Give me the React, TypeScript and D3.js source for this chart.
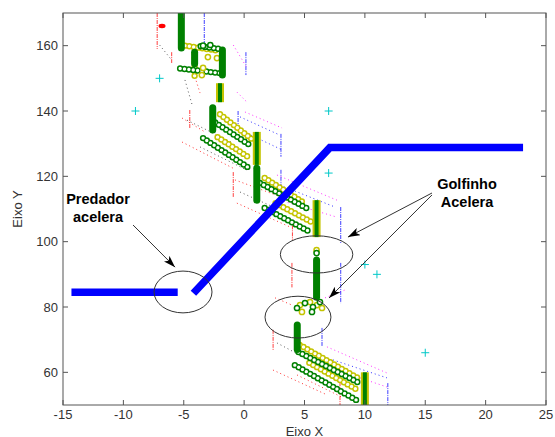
import React from "react";
import * as d3 from "d3";

const W = 555;
const H = 437;
const margin = { top: 13, right: 9, bottom: 32, left: 63 };

const xTicks = [-15, -10, -5, 0, 5, 10, 15, 20, 25];
const yTicks = [60, 80, 100, 120, 140, 160];

// trajetória do predador (linha azul grossa)
const predadorAntes: [number, number][] = [[-14.3, 84.5], [-5.5, 84.5]];
const predadorDepois: [number, number][] = [[-4.2, 84.2], [7.1, 128.8], [23.1, 128.8]];

// trechos verticais densos dos golfinhos: [x, yTopo, yBase]
const barrasVerdes = [
  [-5.2, 170, 159.3],
  [-4.1, 158, 154.5],
  [-1.8, 158.7, 151],
  [-2.6, 141, 134.2],
  [1.05, 122.5, 112.7],
  [6.0, 94.4, 83],
  [4.4, 74.5, 67],
];
const barrasMistas = [
  [-2.0, 148.5, 142.7],
  [1.05, 133.6, 123.5],
  [6.0, 112.7, 101.4],
  [10, 60, 50],
];

// fileiras de hexagramas: [x0, y0, x1, y1]
const fileirasAmarelas = [
  [-4.9, 160, -2.2, 158.5],
  [-4.1, 157.5, -4.1, 150.5],
  [-2.0, 139, 0.6, 131.5],
  [-2.2, 132, 0.3, 126],
  [1.7, 119.5, 5.0, 111.8],
  [2.6, 111.8, 5.6, 106],
  [4.6, 68.4, 9.4, 58.3],
  [5.4, 62.9, 9.4, 54.6],
];
const fileirasVerdes = [
  [-3.6, 159.8, -2.0, 159],
  [-5.3, 153, -1.8, 151.5],
  [-2.4, 136.5, 0.5, 129.5],
  [-3.4, 131.7, 0.3, 122.8],
  [1.3, 118, 5.45, 109.7],
  [1.7, 110.3, 5.45, 103],
  [4.5, 66.2, 9.4, 57],
  [4.2, 62.2, 9.3, 51.5],
];

// hexagramas soltos: [x, y]
const soltosAmarelos = [
  [-3.0, 156.5], [-2.25, 156.2], [-3.5, 151], [-3.4, 153.2], [6.0, 97.4],
  [4.63, 80.6], [5.46, 81.5], [6.03, 80.6], [6.45, 79.7], [4.79, 78.5],
];
const soltosVerdes = [
  [-2.8, 160.2], [-3.4, 160], [6.0, 96.5],
  [4.38, 79.7], [5.04, 81.2], [5.7, 80.0], [6.28, 81.5], [5.62, 78.5],
];

// linhas verticais finas: [x, yTopo, yBase]
const verticaisVermelhas = [
  [-7.2, 170, 159],
  [-6.0, 158, 154.7],
  [-4.5, 140.3, 134.8],
  [-0.9, 121.3, 113.7],
  [4.0, 105, 100.5],
  [3.96, 93.5, 86],
  [2.4, 73, 66.8],
  [7.94, 57, 50],
];
const verticaisAzuis = [
  [-3.3, 170, 160],
  [0.15, 158, 151],
  [-0.5, 140, 135],
  [3.05, 133, 126],
  [3.05, 122, 115],
  [8.0, 110.6, 99.6],
  [8.0, 93.5, 81.2],
  [6.45, 73.6, 67.8],
  [11.9, 56.7, 50],
];

// linhas pontilhadas: [x0, y0, x1, y1]
const pontilhadoVermelho = [
  [-4.07, 150.4, -3.65, 145.5],
  [-5.14, 137.85, -3.24, 133.56],
  [-5.14, 130.5, -0.92, 122.5],
  [-0.76, 118.9, 3.8, 112.7],
  [-0.6, 111.8, 3.8, 104.5],
  [2.56, 82.8, 3.96, 80.6],
  [2.39, 60.7, 6.86, 53.1],
  [4.38, 59.2, 8.1, 52.4],
];
const pontilhadoPreto = [
  [-7.0, 160.2, -6.0, 155.6],
  [-4.9, 149.5, -4.3, 141.8],
  [-4.73, 137.2, -0.92, 130.2],
  [-3.65, 129.0, 0.24, 121.9],
  [-0.34, 115.2, 2.97, 109.7],
  [2.72, 69.0, 7.69, 59.2],
];
const pontilhadoAzul = [
  [-0.34, 138.2, 2.97, 132.6],
  [-0.34, 134.2, 3.14, 128.1],
  [2.97, 117.3, 7.53, 110.6],
  [7.36, 63.8, 11.83, 58.3],
];
const pontilhadoMagenta = [
  [-0.9, 160.2, 0.24, 153.2],
  [-0.6, 145.8, 0.24, 142.7],
  [0.07, 139.7, 3.14, 134.8],
  [2.72, 120.4, 7.69, 112.7],
  [2.97, 112.7, 7.69, 107.5],
  [6.7, 82.8, 8.35, 85.2],
  [6.86, 67.8, 11.83, 59.8],
  [7.69, 60.7, 11.83, 55.5],
];

// marcadores "+" ciano
const cruzes = [[-7, 150], [-9, 140], [7, 140], [7, 121], [10, 93], [11, 90], [15, 66]];

// anotações
const elipses = [
  { cx: -5.06, cy: 84.6, rx: 2.4, ry: 6.4 },
  { cx: 6.0, cy: 96.1, rx: 3.0, ry: 5.7 },
  { cx: 4.46, cy: 76.9, rx: 2.73, ry: 6.4 },
];
const setas = [
  [-9.2, 105.1, -5.72, 92.2],
  [15.56, 114.9, 8.6, 101.4],
  [15.56, 114.3, 7.03, 82.75],
];
const textos = [
  { x: -12.1, y: 113.1, t: "Predador" },
  { x: -12.1, y: 107.6, t: "acelera" },
  { x: 18.46, y: 117.6, t: "Golfinho" },
  { x: 18.46, y: 112.1, t: "Acelera" },
];

const VERDE = "#008000";
const AMARELO = "#c4c400";
const font = "'Liberation Sans', Arial, sans-serif";

export default function App() {
  const x = d3.scaleLinear().domain([-15, 25]).range([margin.left, W - margin.right]);
  const y = d3.scaleLinear().domain([50, 170]).range([H - margin.bottom, margin.top]);
  const line = d3.line<number[]>().x((d) => x(d[0])).y((d) => y(d[1]));
  const x0 = margin.left;
  const x1 = W - margin.right;
  const y0 = H - margin.bottom;
  const y1 = margin.top;

  const fileira = (r: number[], cor: string, k: string) => (
    <g key={k}>
      <line x1={x(r[0])} y1={y(r[1])} x2={x(r[2])} y2={y(r[3])} stroke={cor}
        strokeWidth={6.4} strokeLinecap="round" strokeDasharray="0 4.4" />
      <line x1={x(r[0])} y1={y(r[1])} x2={x(r[2])} y2={y(r[3])} stroke="#fff"
        strokeWidth={3.4} strokeLinecap="round" strokeDasharray="0 4.4" />
    </g>
  );

  const pontilhado = (arr: number[][], cor: string, nome: string) =>
    arr.map((s, i) => (
      <line key={nome + i} x1={x(s[0])} y1={y(s[1])} x2={x(s[2])} y2={y(s[3])}
        stroke={cor} strokeWidth={1} strokeDasharray="1 3" opacity={0.8} />
    ));

  const verticais = (arr: number[][], cor: string, nome: string) =>
    arr.map((s, i) => (
      <line key={nome + i} x1={x(s[0])} y1={y(s[1])} x2={x(s[0])} y2={y(s[2])}
        stroke={cor} strokeWidth={1} strokeDasharray="4 1 1 1" opacity={0.75} />
    ));

  return (
    <svg width={W} height={H} style={{ position: "absolute", left: 0, top: 0, background: "#fff" }}
      fontFamily={font}>
      <defs>
        <clipPath id="area">
          <rect x={x0} y={y1} width={x1 - x0} height={y0 - y1} />
        </clipPath>
        <marker id="ponta" viewBox="0 0 12 8" refX={12} refY={4} markerWidth={12} markerHeight={8}
          markerUnits="userSpaceOnUse" orient="auto">
          <path d="M0,0 L12,4 L0,8 L3,4 Z" fill="#000" />
        </marker>
      </defs>
      <rect x={0} y={0} width={W} height={H} fill="#fff" />

      <g clipPath="url(#area)">
        {pontilhado(pontilhadoVermelho, "#ff0000", "pv")}
        {pontilhado(pontilhadoPreto, "#333", "pp")}
        {pontilhado(pontilhadoAzul, "#0000ff", "pa")}
        {pontilhado(pontilhadoMagenta, "#ff00ff", "pm")}
        {verticais(verticaisVermelhas, "#ff0000", "vv")}
        {verticais(verticaisAzuis, "#0000ff", "va")}

        {fileirasAmarelas.map((r, i) => fileira(r, AMARELO, "fa" + i))}
        {fileirasVerdes.map((r, i) => fileira(r, VERDE, "fv" + i))}

        {soltosAmarelos.map((p, i) => (
          <circle key={"sa" + i} cx={x(p[0])} cy={y(p[1])} r={2.6} fill="#fff" stroke={AMARELO} strokeWidth={1.5} />
        ))}
        {soltosVerdes.map((p, i) => (
          <circle key={"sv" + i} cx={x(p[0])} cy={y(p[1])} r={2.6} fill="#fff" stroke={VERDE} strokeWidth={1.5} />
        ))}

        {barrasMistas.map((b, i) => (
          <g key={"bm" + i}>
            <line x1={x(b[0])} y1={y(b[1])} x2={x(b[0])} y2={y(b[2])} stroke={AMARELO} strokeWidth={8} />
            <line x1={x(b[0])} y1={y(b[1])} x2={x(b[0])} y2={y(b[2])} stroke={VERDE} strokeWidth={4} />
          </g>
        ))}
        {barrasVerdes.map((b, i) => (
          <line key={"bv" + i} x1={x(b[0])} y1={y(b[1])} x2={x(b[0])} y2={y(b[2])}
            stroke={VERDE} strokeWidth={7} strokeLinecap="round" />
        ))}

        <ellipse cx={x(-6.8)} cy={y(166)} rx={3.5} ry={2.2} fill="#ff0000" />

        {cruzes.map((c, i) => (
          <g key={"c" + i} stroke="#00c8c8" strokeWidth={1}>
            <line x1={x(c[0]) - 4} x2={x(c[0]) + 4} y1={y(c[1])} y2={y(c[1])} />
            <line x1={x(c[0])} x2={x(c[0])} y1={y(c[1]) - 4} y2={y(c[1]) + 4} />
          </g>
        ))}

        <path d={line(predadorAntes) || ""} fill="none" stroke="#0000ff" strokeWidth={7.5} />
        <path d={line(predadorDepois) || ""} fill="none" stroke="#0000ff" strokeWidth={7.5}
          strokeLinejoin="miter" />
      </g>

      {/* moldura e ticks */}
      <rect x={x0} y={y1} width={x1 - x0} height={y0 - y1} fill="none" stroke="#555" strokeWidth={1} />
      {xTicks.map((t) => (
        <g key={"xt" + t}>
          <line x1={x(t)} x2={x(t)} y1={y0} y2={y0 - 5} stroke="#555" />
          <line x1={x(t)} x2={x(t)} y1={y1} y2={y1 + 5} stroke="#555" />
          <text x={x(t)} y={y0 + 13.5} textAnchor="middle" fontSize={13} fill="#333">{t}</text>
        </g>
      ))}
      {yTicks.map((t) => (
        <g key={"yt" + t}>
          <line x1={x0} x2={x0 + 5} y1={y(t)} y2={y(t)} stroke="#555" />
          <line x1={x1} x2={x1 - 5} y1={y(t)} y2={y(t)} stroke="#555" />
          <text x={x0 - 5} y={y(t) + 4.5} textAnchor="end" fontSize={13} fill="#333">{t}</text>
        </g>
      ))}
      <text x={(x0 + x1) / 2} y={435.5} textAnchor="middle" fontSize={13} fill="#333">Eixo X</text>
      <text transform={`translate(22,${(y0 + y1) / 2}) rotate(-90)`} textAnchor="middle" fontSize={13} fill="#333">
        Eixo Y
      </text>

      {/* anotações */}
      {elipses.map((e, i) => (
        <ellipse key={"e" + i} cx={x(e.cx)} cy={y(e.cy)} rx={x(e.cx + e.rx) - x(e.cx)}
          ry={y(e.cy - e.ry) - y(e.cy)} fill="none" stroke="#333" strokeWidth={1} />
      ))}
      {setas.map((s, i) => (
        <line key={"s" + i} x1={x(s[0])} y1={y(s[1])} x2={x(s[2])} y2={y(s[3])}
          stroke="#333" strokeWidth={1} markerEnd="url(#ponta)" />
      ))}
      {textos.map((t, i) => (
        <text key={"t" + i} x={x(t.x)} y={y(t.y) + 5} textAnchor="middle" fontSize={14.5}
          fontWeight="bold" fill="#000">{t.t}</text>
      ))}
    </svg>
  );
}
